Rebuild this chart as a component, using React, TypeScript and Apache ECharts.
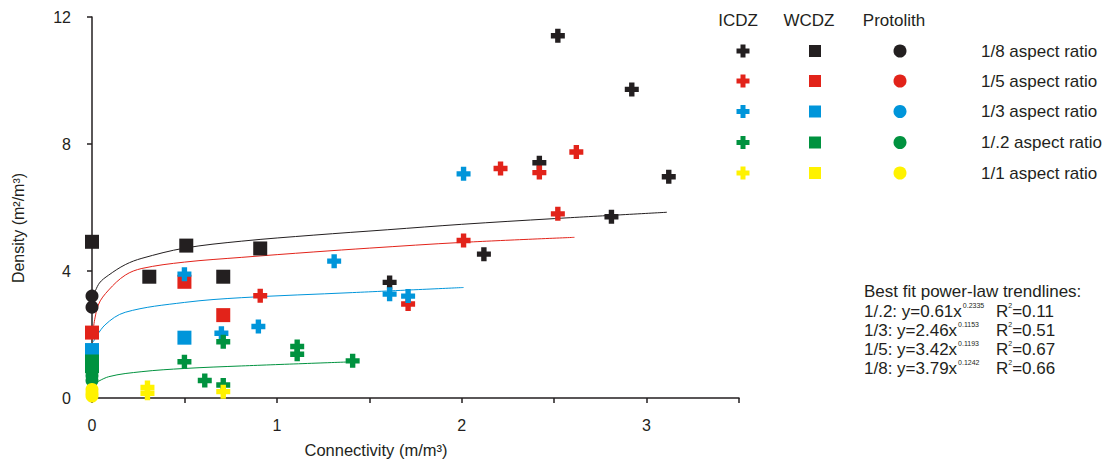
import React, { useEffect, useRef } from "react";
import * as echarts from "echarts";

// ---- Data ----
const COLORS = ["#231f20", "#e2231a", "#0095da", "#00923f", "#fff200"];
const ROW_LABELS = ["1/8 aspect ratio", "1/5 aspect ratio", "1/3 aspect ratio", "1/.2 aspect ratio", "1/1 aspect ratio"];
const HEADERS = ["ICDZ", "WCDZ", "Protolith"];

// ICDZ (plus markers)
const icdzBlack = [[2.52, 11.41], [2.92, 9.72], [2.42, 7.41], [3.12, 6.97], [2.81, 5.71], [2.12, 4.53], [1.61, 3.64]];
const icdzRed = [[2.21, 7.23], [2.62, 7.75], [2.42, 7.1], [2.52, 5.8], [2.01, 4.96], [1.71, 2.96], [0.91, 3.22]];
const icdzBlue = [[2.01, 7.06], [1.31, 4.31], [1.61, 3.27], [1.71, 3.21], [0.5, 3.9], [0.7, 2.04], [0.9, 2.25]];
const icdzGreen = [[0.5, 1.14], [0.61, 0.55], [0.71, 0.41], [0.71, 1.77], [1.11, 1.62], [1.11, 1.38], [1.41, 1.17]];
const icdzYellow = [[0.3, 0.33], [0.3, 0.15], [0.71, 0.2]];
// WCDZ (square markers)
const wcdzBlack = [[0, 4.92], [0.31, 3.82], [0.51, 4.8], [0.71, 3.82], [0.91, 4.71]];
const wcdzRed = [[0, 2.06], [0.5, 3.66], [0.71, 2.61]];
const wcdzBlue = [[0, 1.51], [0.5, 1.9]];
const wcdzGreen = [[0, 1.15], [0, 1.0]];
const wcdzYellow: number[][] = [];
// Protolith (circle markers)
const protoBlack = [[0, 3.21], [0, 2.86]];
const protoRed: number[][] = [];
const protoBlue: number[][] = [];
const protoGreen = [[0, 0.85], [0, 0.7], [0, 0.55]];
const protoYellow = [[0, 0.27], [0, 0.15], [0, 0.06]];

// Trendlines
const trendBlack = [[0.01, 3.25], [0.04, 3.62], [0.09, 3.87], [0.18, 4.2], [0.27, 4.4], [0.5, 4.72], [0.81, 4.94], [1.2, 5.13], [1.6, 5.3], [2.0, 5.47], [2.5, 5.65], [3.11, 5.85]];
const trendRed = [[0.005, 2.1], [0.034, 2.93], [0.09, 3.4], [0.18, 3.87], [0.27, 4.08], [0.5, 4.28], [0.81, 4.43], [1.2, 4.6], [1.5, 4.72], [2.0, 4.9], [2.61, 5.06]];
const trendBlue = [[0.007, 1.77], [0.07, 2.3], [0.18, 2.7], [0.5, 3.01], [0.81, 3.16], [1.41, 3.32], [2.01, 3.48]];
const trendGreen = [[0.007, 0.43], [0.09, 0.67], [0.27, 0.83], [0.5, 0.93], [0.81, 1.01], [1.41, 1.14]];

const FIT_NAMES = ["1/.2", "1/3", "1/5", "1/8"];
const FIT_COEF = ["0.61", "2.46", "3.42", "3.79"];
const FIT_EXP = ["0.2335", "0.1153", "0.1193", "0.1242"];
const FIT_R2 = ["0.11", "0.51", "0.67", "0.66"];

const X_MIN = 0, X_MAX = 3.5, X_INT = 0.5;
const Y_MIN = 0, Y_MAX = 12, Y_INT = 4;

const FONT = "'Liberation Sans', Arial, sans-serif";
const TXT = "#231f20";
const PLUS = "path://M4,0H9V4H13V9H9V13H4V9H0V4H4Z";

export default function App() {
  const ref = useRef<HTMLDivElement>(null);
  useEffect(() => {
    document.body.style.margin = "0";
    const chart = echarts.init(ref.current!, null, { renderer: "svg" });

    const icdz = [icdzBlack, icdzRed, icdzBlue, icdzGreen, icdzYellow];
    const wcdz = [wcdzBlack, wcdzRed, wcdzBlue, wcdzGreen, wcdzYellow];
    const proto = [protoBlack, protoRed, protoBlue, protoGreen, protoYellow];
    const trends = [trendBlack, trendRed, trendBlue, trendGreen];

    const series: any[] = [];
    trends.forEach((d, i) => {
      series.push({
        type: "line", data: d, smooth: 0.35, showSymbol: false, silent: true, z: 1,
        lineStyle: { color: COLORS[i], width: 1 },
      });
    });
    const scat = (d: number[][], i: number, symbol: string, size: number) => ({
      type: "scatter", data: d, symbol, symbolSize: size, z: 3,
      itemStyle: { color: COLORS[i], opacity: 1 },
    });
    proto.forEach((d, i) => series.push(scat(d, i, "circle", 13)));
    wcdz.forEach((d, i) => series.push(scat(d, i, "rect", 14)));
    icdz.forEach((d, i) => series.push(scat(d, i, PLUS, 14)));

    const graphic: any[] = [];
    const hx = [738, 809, 894];
    HEADERS.forEach((h, j) => graphic.push({
      type: "text", x: hx[j], y: 20,
      style: { text: h, font: `17px ${FONT}`, fill: TXT, align: "center", verticalAlign: "middle" },
    }));
    const rowY = [51, 81, 111.5, 142.5, 173];
    ROW_LABELS.forEach((lab, i) => {
      const cy = rowY[i];
      const c = COLORS[i];
      graphic.push({ type: "rect", shape: { x: 743 - 6.5, y: cy - 2.5, width: 13, height: 5 }, style: { fill: c } });
      graphic.push({ type: "rect", shape: { x: 743 - 2.5, y: cy - 6.5, width: 5, height: 13 }, style: { fill: c } });
      graphic.push({ type: "rect", shape: { x: 815 - 6, y: cy - 6, width: 12, height: 12 }, style: { fill: c } });
      graphic.push({ type: "circle", shape: { cx: 900, cy, r: 6.5 }, style: { fill: c } });
      graphic.push({
        type: "text", x: 981, y: cy,
        style: { text: lab, font: `17px ${FONT}`, fill: TXT, align: "left", verticalAlign: "middle" },
      });
    });
    graphic.push({
      type: "text", x: 864, y: 291,
      style: { text: "Best fit power-law trendlines:", font: `17px ${FONT}`, fill: TXT, verticalAlign: "middle" },
    });
    const fitY = [311, 330, 349.5, 368.5];
    FIT_NAMES.forEach((n, i) => {
      graphic.push({
        type: "text", x: 864, y: fitY[i],
        style: {
          text: `${n}: y=${FIT_COEF[i]}x{s|${FIT_EXP[i]}}`,
          font: `17px ${FONT}`, fill: TXT, verticalAlign: "middle", lineHeight: 19,
          rich: { s: { fontSize: 7, fontFamily: FONT, fill: TXT, verticalAlign: "top", lineHeight: 19, padding: [0, 0, 8, 1] } },
        },
      });
      graphic.push({
        type: "text", x: 996, y: fitY[i],
        style: {
          text: `R{s|2}=${FIT_R2[i]}`,
          font: `17px ${FONT}`, fill: TXT, verticalAlign: "middle", lineHeight: 19,
          rich: { s: { fontSize: 7, fontFamily: FONT, fill: TXT, verticalAlign: "top", lineHeight: 19, padding: [0, 0, 8, 0] } },
        },
      });
    });
    graphic.push({
      type: "text", x: 18, y: 228, rotation: Math.PI / 2,
      style: { text: "Density (m²/m³)", font: `16px ${FONT}`, fill: TXT, align: "center", verticalAlign: "middle" },
    });
    graphic.push({
      type: "text", x: 376, y: 450,
      style: { text: "Connectivity (m/m³)", font: `16.5px ${FONT}`, fill: TXT, align: "center", verticalAlign: "middle" },
    });

    chart.setOption({
      animation: false,
      backgroundColor: "#ffffff",
      grid: { left: 92, top: 17, width: 647, height: 381, containLabel: false },
      xAxis: {
        type: "value", min: X_MIN, max: X_MAX, interval: X_INT,
        splitLine: { show: false },
        axisLine: { onZero: false, lineStyle: { color: TXT, width: 1.5 } },
        axisTick: { length: 5, lineStyle: { color: TXT, width: 1.5 } },
        axisLabel: {
          margin: 19, fontSize: 16, fontFamily: FONT, color: TXT,
          formatter: (v: number) => (Math.abs(v - Math.round(v)) < 1e-6 ? String(Math.round(v)) : ""),
        },
      },
      yAxis: {
        type: "value", min: Y_MIN, max: Y_MAX, interval: Y_INT,
        splitLine: { show: false },
        axisLine: { show: true, onZero: false, lineStyle: { color: TXT, width: 1.5 } },
        axisTick: { show: true, length: 5, lineStyle: { color: TXT, width: 1.5 } },
        axisLabel: { margin: 21, fontSize: 16, fontFamily: FONT, color: TXT },
      },
      series,
      graphic,
    });
    return () => chart.dispose();
  }, []);
  return <div ref={ref} style={{ width: 1107, height: 461 }} />;
}
